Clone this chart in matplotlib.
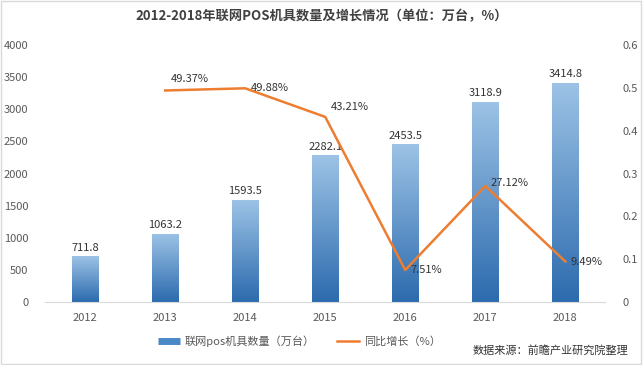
import matplotlib
matplotlib.use('Agg')
import matplotlib.pyplot as plt
import numpy as np
from matplotlib.colors import LinearSegmentedColormap
from matplotlib.lines import Line2D

plt.rcParams['font.family'] = ['Noto Sans CJK SC', 'DejaVu Sans']

years = ['2012', '2013', '2014', '2015', '2016', '2017', '2018']
counts = [711.8, 1063.2, 1593.5, 2282.1, 2453.5, 3118.9, 3414.8]
growth_years = ['2013', '2014', '2015', '2016', '2017', '2018']
growth = [0.4937, 0.4988, 0.4321, 0.0751, 0.2712, 0.0949]
growth_labels = ['49.37%', '49.88%', '43.21%', '7.51%', '27.12%', '9.49%']
label_dy = [8, 0, 7, 0, 2, 0]  # label nudges, points

fig = plt.figure(figsize=(6.44, 3.65), dpi=100)
ax = fig.add_axes([0.07, 0.172, 0.87, 0.705])
ax2 = ax.twinx()

x = np.arange(len(years))
width = 0.33
cmap = LinearSegmentedColormap.from_list('bar', ['#2C6BAE', '#9DC3E6'])
grad = np.linspace(0, 1, 256).reshape(-1, 1)
bars = ax.bar(x, counts, width, color='none', edgecolor='none')
for b in bars:
    bx, by = b.get_x(), b.get_y()
    bw, bh = b.get_width(), b.get_height()
    im = ax.imshow(grad, cmap=cmap, origin='lower', aspect='auto',
                   extent=[bx, bx + bw, by, by + bh], zorder=2)
    im.set_clip_path(b)
for xi, v in zip(x, counts):
    ax.text(xi, v + 60, f'{v:.1f}', ha='center', va='bottom', fontsize=8, color='#333333')

ax.set_xlim(-0.5, len(years) - 0.5)
ax.set_ylim(0, 4000)
ax.set_yticks(range(0, 4001, 500))
ax.set_xticks(x)
ax.set_xticklabels(years)

gx = [years.index(y) for y in growth_years]
ax2.plot(gx, growth, color='#ED7D31', lw=1.8, zorder=3)
for xi, v, t, dy in zip(gx, growth, growth_labels, label_dy):
    ax2.annotate(t, (xi, v), xytext=(4, dy), textcoords='offset points',
                 ha='left', va='center', fontsize=8, color='#333333')
ax2.set_ylim(0, 0.6)
ax2.set_yticks([0, 0.1, 0.2, 0.3, 0.4, 0.5, 0.6])
ax2.set_yticklabels(['0', '0.1', '0.2', '0.3', '0.4', '0.5', '0.6'])

for a in (ax, ax2):
    for s in a.spines.values():
        s.set_visible(False)
    a.tick_params(length=0, labelsize=8, colors='#595959')
ax.spines['bottom'].set_visible(True)
ax.spines['bottom'].set_color('#D9D9D9')
ax.tick_params(axis='x', pad=8)
ax.tick_params(axis='y', pad=12)
ax2.tick_params(axis='y', pad=12)

fig.suptitle('2012-2018年联网POS机具数量及增长情况（单位：万台，%）',
             x=0.5, y=0.975, fontsize=9.5, fontweight='bold', color='#404040')

handles = [Line2D([0], [0], color='#4A88C7', lw=5, solid_capstyle='butt'),
           Line2D([0], [0], color='#ED7D31', lw=1.8)]
fig.legend(handles, ['联网pos机具数量（万台）', '同比增长（%）'],
           loc='center', bbox_to_anchor=(0.465, 0.065), ncol=2, frameon=False,
           fontsize=8, labelcolor='#595959', handlelength=2.0, handletextpad=0.4,
           columnspacing=2.0)
fig.text(0.975, 0.04, '数据来源：前瞻产业研究院整理', ha='right', va='center',
         fontsize=8, color='#333333')

fig.patches.append(plt.Rectangle((0.002, 0.003), 0.994, 0.994, transform=fig.transFigure,
                                 fill=False, edgecolor='#D9D9D9', lw=1))

fig.savefig('out.png', dpi=100)
